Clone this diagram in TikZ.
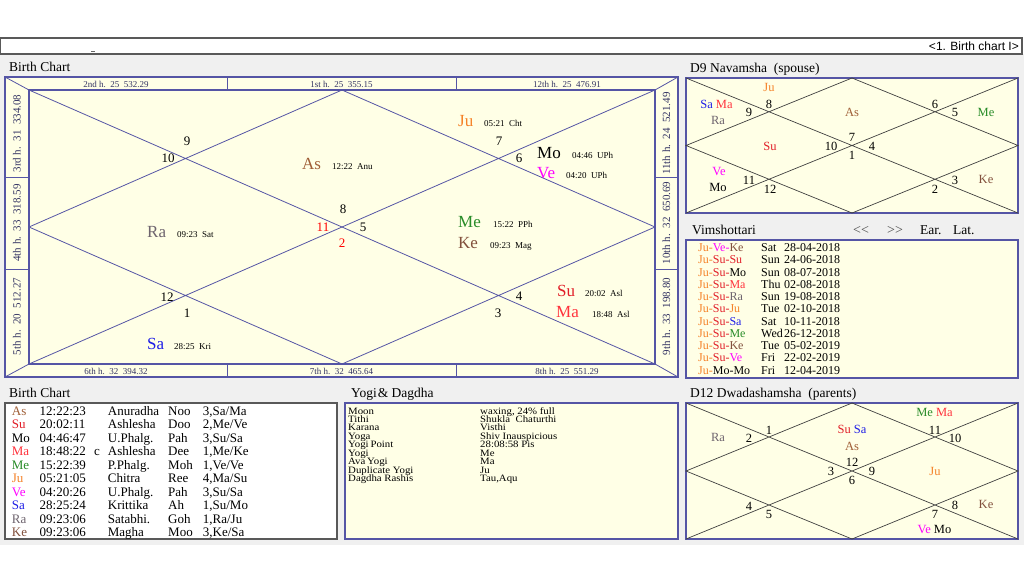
\documentclass[tikz,border=0pt]{standalone}
\usepackage{fontspec}
\setmainfont{Liberation Serif}
\newfontfamily\arialfont{Liberation Sans}
\usepackage{tikz}
\usepackage{xcolor}
\usetikzlibrary{positioning}
\definecolor{panel}{RGB}{240,240,240}
\definecolor{chart}{RGB}{255,255,230}
\definecolor{frame}{RGB}{85,85,165}
\definecolor{cAs}{RGB}{160,95,55}
\definecolor{cSu}{RGB}{225,30,40}
\definecolor{cMo}{RGB}{0,0,0}
\definecolor{cMa}{RGB}{255,50,60}
\definecolor{cMe}{RGB}{40,140,40}
\definecolor{cJu}{RGB}{245,130,40}
\definecolor{cVe}{RGB}{255,0,255}
\definecolor{cSa}{RGB}{30,30,230}
\definecolor{cRa}{RGB}{110,100,110}
\definecolor{cKe}{RGB}{130,80,60}
\newcommand{\fsz}[1]{\fontsize{#1}{#1}\selectfont}
\newcommand{\dasha}[3]{\textcolor{c#1}{#1-}\textcolor{c#2}{#2-}\textcolor{c#3}{#3}}

\begin{document}
\begin{tikzpicture}[x=1pt,y=-1pt,
		bigpl/.style={anchor=base west,inner sep=0pt,font=\fsz{17}},
		deg/.style={anchor=base west,inner sep=0pt,font=\fsz{9}},
		hnum/.style={inner sep=0pt,font=\fsz{13}},
		striplab/.style={inner sep=0pt,font=\fsz{9},text=frame!60!black},
		paneltitle/.style={anchor=base west,inner sep=0pt,font=\fsz{13.5}},
		vlab/.style={inner sep=0pt,font=\fsz{12.5}},
		tabrow/.style={anchor=base west,inner sep=0pt}]
		% BACKGROUND
		\useasboundingbox (0,0) rectangle (1024,576);
		\fill [white] (0,0) rectangle (1024,576);
		\fill [panel] (0,54) rectangle (1024,545);
		% TOP BAR
		\draw [fill=white,draw=black!65,line width=1.2pt] (0,38) rectangle (1022,54);
		\draw [black!60] (91,51) -- (95,51);
		\node [anchor=base east,inner sep=0pt,font=\arialfont\fsz{12}] (bar) at (1019,50) {<1. Birth chart I>};

		% MAIN CHART
		\node [paneltitle] (tmain) at (9,71) {Birth Chart};
		\coordinate (oNW) at (5,77); \coordinate (oNE) at (678,77);
		\coordinate (oSE) at (678,377); \coordinate (oSW) at (5,377);
		\coordinate (NW) at (29,90); \coordinate (NE) at (655,90);
		\coordinate (SE) at (655,364); \coordinate (SW) at (29,364);
		\coordinate (N) at (342,90); \coordinate (E) at (655,227);
		\coordinate (S) at (342,364); \coordinate (W) at (29,227);
		\draw [frame,fill=chart,line width=2pt] (oNW) rectangle (oSE);
		\draw [frame,line width=1.6pt] (NW) rectangle (SE);
		\draw [frame,line width=0.8pt] (oNW) -- (NW) (oNE) -- (NE) (oSE) -- (SE) (oSW) -- (SW);
		\draw [frame,line width=0.8pt] (NW) -- (SE) (NE) -- (SW) (N) -- (E) -- (S) -- (W) -- cycle;
		\foreach \x in {227,456}
			\draw [frame,line width=0.8pt] (\x,77) -- (\x,90) (\x,364) -- (\x,377);
		\foreach \y in {177,269}
			\draw [frame,line width=0.8pt] (5,\y) -- (29,\y) (655,\y) -- (678,\y);
		% house cusps round the frame
		\node [striplab] (c2) at (116,84) {2nd h.~~25~~532.29};
		\node [striplab] (c1) at (341.5,84) {1st h.~~25~~355.15};
		\node [striplab] (c12) at (567,84) {12th h.~~25~~476.91};
		\node [striplab] (c6) at (116,371) {6th h.~~32~~394.32};
		\node [striplab] (c7) at (341.5,371) {7th h.~~32~~465.64};
		\node [striplab] (c8) at (567,371) {8th h.~~25~~551.29};
		\node [striplab,rotate=90,font=\fsz{11}] (c3) at (17,133.5) {3rd h.~~31~~334.08};
		\node [striplab,rotate=90,font=\fsz{11}] (c4) at (17,223) {4th h.~~33~~318.59};
		\node [striplab,rotate=90,font=\fsz{11}] (c5) at (17,316.5) {5th h.~~20~~512.27};
		\node [striplab,rotate=90,font=\fsz{11}] (c11) at (666.5,133.5) {11th h.~~24~~521.49};
		\node [striplab,rotate=90,font=\fsz{11}] (c10) at (666.5,223) {10th h.~~32~~650.69};
		\node [striplab,rotate=90,font=\fsz{11}] (c9) at (666.5,316.5) {9th h.~~33~~198.80};
		% sign numbers
		\foreach \n/\x/\y in {9/187/141,10/168/158,7/499/141,6/519/158,8/343/209,5/363/227,12/167/297,1/187/313,4/519/296,3/498/313}
			\node [hnum] (m\n) at (\x,\y) {\n};
		\node [hnum,text=red] (m11) at (323,227) {11};
		\node [hnum,text=red] (m2) at (342,243) {2};
		% planets
		\foreach \p/\x/\y/\dx/\d in {As/302/169/332/12:22~~Anu,Ju/458/126/484/05:21~~Cht,Mo/537/158/572/04:46~~UPh,Ve/537/178/566/04:20~~UPh,Ra/147/237/177/09:23~~Sat,Me/458/227/493/15:22~~PPh,Ke/458/248/490/09:23~~Mag,Su/557/296/585/20:02~~Asl,Ma/556/317/592/18:48~~Asl,Sa/147/349/174/28:25~~Kri} {
			\node [bigpl] (p\p) at (\x,\y) {\textcolor{c\p}{\p}};
			\node [deg] (d\p) at (\dx,\y) {\d};
		}

		% D9 NAVAMSHA
		\node [paneltitle] (tnine) at (690,72) {D9 Navamsha~~(spouse)};
		\coordinate (aNW) at (686,78); \coordinate (aNE) at (1018,78);
		\coordinate (aSE) at (1018,213); \coordinate (aSW) at (686,213);
		\coordinate (aN) at (852,78); \coordinate (aE) at (1018,145.5);
		\coordinate (aS) at (852,213); \coordinate (aW) at (686,145.5);
		\draw [frame,fill=chart,line width=1.5pt] (aNW) rectangle (aSE);
		\draw [black!75,line width=0.7pt] (aNW) -- (aSE) (aNE) -- (aSW) (aN) -- (aE) -- (aS) -- (aW) -- cycle;
		\foreach \n/\x/\y in {9/749/112,8/769/104,6/935/104,5/955/112,10/831/146,7/852/137,4/872/146,1/852/155,11/749/180,12/770/189,2/935/189,3/955/180}
			\node [vlab] (n\n) at (\x,\y) {\n};
		\foreach \p/\x/\y in {Ju/769/87,Ra/718/120,As/852/112,Me/986/112,Su/770/146,Ve/719/171,Mo/718/187,Ke/986/179}
			\node [vlab] (q\p) at (\x,\y) {\textcolor{c\p}{\p}};
		\node [vlab] (qSaMa) at (716.5,104) {\textcolor{cSa}{Sa} \textcolor{cMa}{Ma}};

		% VIMSHOTTARI
		\node [paneltitle] (tvim) at (692,234) {Vimshottari};
		\node [vlab,font=\fsz{14},text=black!70] (back) at (861,230.5) {<\kern0pt<};
		\node [vlab,font=\fsz{14},text=black!70] (fwd) at (895,230.5) {>\kern0pt>};
		\node [paneltitle] (ear) at (920,234) {Ear.};
		\node [paneltitle] (lat) at (953,234) {Lat.};
		\draw [frame,fill=chart,line width=1.2pt] (686,240) rectangle (1018,378);
		\foreach \a/\b/\c/\dd/\dt [count=\i from 0] in {Ju/Ve/Ke/Sat/28-04-2018,Ju/Su/Su/Sun/24-06-2018,Ju/Su/Mo/Sun/08-07-2018,Ju/Su/Ma/Thu/02-08-2018,Ju/Su/Ra/Sun/19-08-2018,Ju/Su/Ju/Tue/02-10-2018,Ju/Su/Sa/Sat/10-11-2018,Ju/Su/Me/Wed/26-12-2018,Ju/Su/Ke/Tue/05-02-2019,Ju/Su/Ve/Fri/22-02-2019,Ju/Mo/Mo/Fri/12-04-2019} {
			\node [tabrow,font=\fsz{12}] (v\i) at (698,251.7+12.23*\i) {\dasha{\a}{\b}{\c}};
			\node [tabrow,font=\fsz{12}] (vd\i) at (761,251.7+12.23*\i) {\dd};
			\node [tabrow,font=\fsz{12}] (vt\i) at (784,251.7+12.23*\i) {\dt};
		}

		% BIRTH CHART TABLE
		\node [paneltitle] (ttab) at (9,397) {Birth Chart};
		\draw [fill=white,draw=black!65,line width=1.2pt] (5,403) rectangle (337,539);
		\begin{scope}
			\clip (6,404) rectangle (336,538.5);
			\foreach \p/\t/\n/\s/\q [count=\i from 0] in {As/12:22:23/Anuradha/Noo/{3,Sa/Ma},Su/20:02:11/Ashlesha/Doo/{2,Me/Ve},Mo/04:46:47/U.Phalg./Pah/{3,Su/Sa},Ma/18:48:22/Ashlesha/Dee/{1,Me/Ke},Me/15:22:39/P.Phalg./Moh/{1,Ve/Ve},Ju/05:21:05/Chitra/Ree/{4,Ma/Su},Ve/04:20:26/U.Phalg./Pah/{3,Su/Sa},Sa/28:25:24/Krittika/Ah/{1,Su/Mo},Ra/09:23:06/Satabhi./Goh/{1,Ra/Ju},Ke/09:23:06/Magha/Moo/{3,Ke/Sa}} {
				\node [tabrow,font=\fsz{13}] (b\p) at (11.7,415+13.55*\i) {\textcolor{c\p}{\p}};
				\node [tabrow,font=\fsz{13}] (bt\i) at (39.5,415+13.55*\i) {\t};
				\node [tabrow,font=\fsz{13}] (bn\i) at (107.7,415+13.55*\i) {\n};
				\node [tabrow,font=\fsz{13}] (bs\i) at (168,415+13.55*\i) {\s};
				\node [tabrow,font=\fsz{13}] (bq\i) at (202.7,415+13.55*\i) {\q};
			}
			\node [tabrow,font=\fsz{13}] (bc) at (94,415+13.55*3) {c};
		\end{scope}

		% YOGI & DAGDHA
		\node [paneltitle] (tyogi) at (351,397) {Yogi\hspace{1pt}\& Dagdha};
		\draw [frame,fill=chart,line width=1.2pt] (345,403) rectangle (678,539);
		\foreach \k/\v [count=\i from 0] in {Moon/{waxing, 24\% full},Tithi/Shukla~~Chaturthi,Karana/Visthi,Yoga/Shiv Inauspicious,Yogi\,Point/28:08:58 Pis,Yogi/Me,Ava\,Yogi/Ma,Duplicate Yogi/Ju,Dagdha Rashis/{Tau,Aqu}} {
			\node [tabrow,font=\fsz{10.8}] (y\i) at (348,414+8.45*\i) {\scalebox{1}[0.9]{\k}};
			\node [tabrow,font=\fsz{10.8}] (yv\i) at (480,414+8.45*\i) {\scalebox{1}[0.9]{\v}};
		}

		% D12 DWADASHAMSHA
		\node [paneltitle] (ttwelve) at (690,397) {D12 Dwadashamsha~~(parents)};
		\coordinate (bNW) at (686,403); \coordinate (bNE) at (1018,403);
		\coordinate (bSE) at (1018,539); \coordinate (bSW) at (686,539);
		\coordinate (bN) at (852,403); \coordinate (bE) at (1018,471);
		\coordinate (bS) at (852,539); \coordinate (bW) at (686,471);
		\draw [frame,fill=chart,line width=1.5pt] (bNW) rectangle (bSE);
		\draw [black!75,line width=0.7pt] (bNW) -- (bSE) (bNE) -- (bSW) (bN) -- (bE) -- (bS) -- (bW) -- cycle;
		\foreach \n/\x/\y in {2/749/438,1/769/430,11/935/430,10/955/438,3/831/471,12/852/462,9/872/471,6/852/480,4/749/506,5/769/514,7/935/514,8/955/505}
			\node [vlab] (r\n) at (\x,\y) {\n};
		\foreach \p/\x/\y in {Ra/718/437,As/852/446,Ju/935/471,Ke/986/504}
			\node [vlab] (s\p) at (\x,\y) {\textcolor{c\p}{\p}};
		\node [vlab] (sMeMa) at (934.5,412) {\textcolor{cMe}{Me} \textcolor{cMa}{Ma}};
		\node [vlab] (sSuSa) at (852,429) {\textcolor{cSu}{Su} \textcolor{cSa}{Sa}};
		\node [vlab] (sVeMo) at (934.5,529) {\textcolor{cVe}{Ve} \textcolor{cMo}{Mo}};
\end{tikzpicture}
\end{document}
